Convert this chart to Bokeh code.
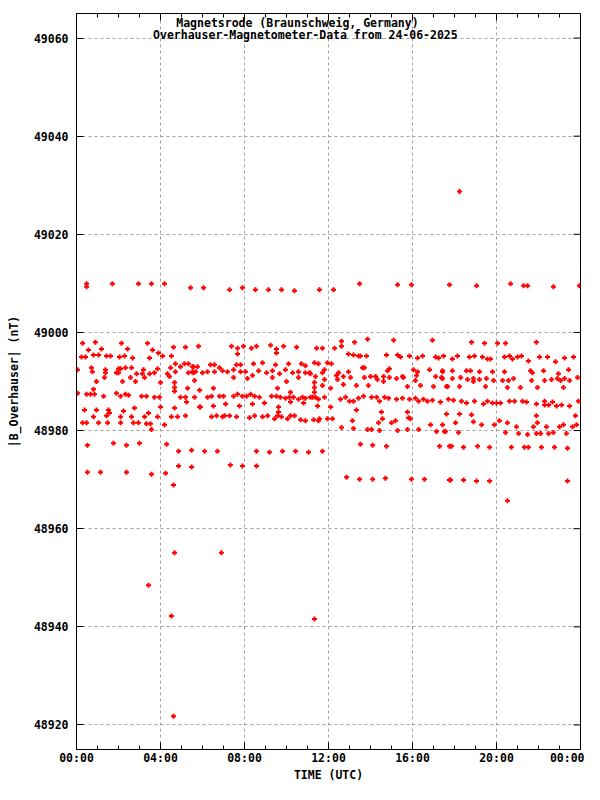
from math import pi
from bokeh.plotting import figure
from bokeh.models import Range1d, FixedTicker, Label, ColumnDataSource
from bokeh.embed import file_html
from bokeh.resources import INLINE

# ---- data: (hour of day UTC, |B| in nT) ----
title_line1 = "Magnetsrode (Braunschweig, Germany)"
title_line2 = "Overhauser-Magnetometer-Data from 24-06-2025"
x_title = "TIME (UTC)"
y_title = "|B_Overhauser| (nT)"
x_ticks = [0, 4, 8, 12, 16, 20, 24]
x_minor = list(range(0, 25))
x_tick_labels = ["00:00", "04:00", "08:00", "12:00", "16:00", "20:00", "00:00"]
y_ticks = [48920, 48940, 48960, 48980, 49000, 49020, 49040, 49060]
x_lo, x_hi = 0, 24
y_lo, y_hi = 48915, 49065

seg_00_06 = [
    (0.48, 49009.9), (0.48, 49009.3), (1.71, 49009.9), (2.95, 49009.9), (3.57, 49009.9), (4.19, 49009.9), (5.43, 49009.1),
    (0.29, 48997.8), (0.57, 48996.4), (0.90, 48998.0), (1.19, 48996.6), (0.24, 48995.0), (0.43, 48995.0), (0.81, 48995.4),
    (1.05, 48995.4), (1.43, 48995.2), (1.62, 48995.2), (2.14, 48997.8), (2.43, 48996.6), (2.05, 48995.0), (2.29, 48995.2),
    (2.67, 48994.8), (3.38, 48997.8), (3.62, 48996.4), (3.48, 48994.8), (3.90, 48995.8), (4.10, 48995.2), (4.52, 48995.2),
    (4.62, 48997.0), (5.19, 48997.0), (5.81, 48997.2),
    (0.05, 48992.4), (0.71, 48992.8), (0.76, 48992.0), (1.38, 48992.4), (1.38, 48991.8), (1.33, 48990.8), (1.90, 48991.8),
    (2.00, 48992.6), (2.00, 48991.8), (2.10, 48992.6), (2.33, 48992.8), (2.62, 48992.8), (2.86, 48991.6), (3.14, 48991.6),
    (3.19, 48992.4), (3.24, 48990.8), (3.48, 48991.6), (3.71, 48991.8), (3.86, 48992.6), (4.33, 48991.6), (4.43, 48991.0),
    (4.48, 48992.8), (4.71, 48993.6), (4.71, 48992.0), (4.95, 48993.0), (5.14, 48993.6), (5.33, 48993.6), (5.33, 48991.8),
    (5.52, 48992.0), (5.57, 48993.0), (5.76, 48993.0), (5.67, 48992.0), (5.62, 48990.2),
    (0.95, 48990.0), (2.19, 48990.0), (2.57, 48990.8), (2.81, 48990.0), (4.00, 48989.8), (4.67, 48989.8), (4.67, 48988.8),
    (4.67, 48988.0), (5.29, 48988.6),
    (0.05, 48987.6), (0.48, 48987.4), (0.67, 48987.4), (0.86, 48987.4), (0.81, 48988.4), (1.29, 48987.0), (1.90, 48987.6),
    (2.10, 48987.0), (2.33, 48987.4), (2.48, 48987.2), (3.10, 48987.0), (3.33, 48987.0), (3.71, 48986.8), (3.95, 48986.8),
    (4.95, 48986.8), (5.19, 48986.8), (5.24, 48985.8), (5.62, 48986.8), (5.86, 48988.2), (5.86, 48984.8),
    (0.38, 48984.2), (0.95, 48984.2), (1.52, 48984.2), (1.57, 48983.6), (2.24, 48984.0), (2.76, 48984.6), (3.43, 48983.6),
    (4.00, 48984.8), (4.67, 48984.6), (5.19, 48983.0), (4.52, 48982.8), (0.81, 48982.8), (1.43, 48983.0), (2.10, 48982.8),
    (2.62, 48982.8), (3.24, 48982.8), (3.86, 48982.8), (4.81, 48982.8),
    (0.29, 48981.6), (0.48, 48981.6), (1.05, 48981.6), (1.48, 48981.6), (2.10, 48981.6), (2.71, 48981.6), (2.95, 48981.6),
    (3.33, 48981.4), (3.52, 48981.4), (3.57, 48980.2), (4.19, 48981.2),
    (0.52, 48977.0), (1.76, 48977.4), (2.38, 48977.0), (3.00, 48977.4), (4.29, 48977.2), (4.86, 48975.8), (5.48, 48976.0),
    (0.52, 48971.5), (1.14, 48971.5), (2.38, 48971.5), (3.57, 48971.1), (4.24, 48971.3), (4.86, 48972.8), (5.48, 48972.6),
    (4.62, 48968.9),
]

seg_06_12 = [
    (6.05, 49009.1), (7.29, 49008.7), (7.90, 49009.1), (8.52, 49008.7), (9.14, 49008.7), (9.76, 49008.7), (10.38, 49008.5),
    (11.57, 49008.7),
    (7.38, 48997.2), (7.67, 48996.8), (7.67, 48995.6), (7.95, 48997.2), (8.33, 48996.8), (8.57, 48997.2), (9.24, 48997.4),
    (9.52, 48996.6), (9.52, 48995.8), (9.86, 48997.2), (10.48, 48997.0), (11.43, 48996.8),
    (5.52, 48993.0), (5.57, 48991.8), (6.00, 48991.8), (6.24, 48992.0), (6.38, 48993.4), (6.57, 48993.4), (6.57, 48992.0),
    (6.81, 48992.8), (6.95, 48992.2), (7.19, 48992.0), (7.48, 48992.4), (7.48, 48990.8), (7.62, 48993.4), (7.81, 48993.4),
    (7.81, 48992.0), (8.05, 48992.0), (8.14, 48990.6), (8.43, 48993.6), (8.38, 48991.2), (8.67, 48992.2), (8.86, 48993.8),
    (9.05, 48991.8), (9.33, 48992.2), (9.33, 48990.8), (9.48, 48993.4), (9.67, 48991.6), (9.95, 48992.4), (10.10, 48993.6),
    (10.00, 48990.0), (10.29, 48991.8), (10.57, 48992.0), (10.57, 48990.8), (10.71, 48993.6), (10.90, 48993.2),
    (10.90, 48991.8), (11.10, 48991.8), (11.33, 48993.8), (11.38, 48991.0), (11.52, 48993.6), (11.33, 48989.8),
    (6.52, 48988.6), (6.24, 48986.8), (6.43, 48987.0), (6.81, 48987.0), (7.00, 48987.0), (7.48, 48987.0), (7.67, 48987.4),
    (7.90, 48987.0), (8.10, 48987.0), (8.29, 48987.4), (8.48, 48987.0), (8.71, 48986.8), (9.29, 48987.0), (9.52, 48987.0),
    (9.71, 48986.8), (9.95, 48986.6), (10.14, 48986.8), (10.33, 48986.8), (10.57, 48986.4), (10.76, 48986.8),
    (10.90, 48986.6), (11.14, 48986.8), (11.33, 48987.8), (11.38, 48986.8), (11.52, 48986.4), (9.57, 48988.6),
    (10.19, 48987.8),
    (5.90, 48984.8), (6.52, 48985.0), (7.10, 48985.4), (7.76, 48985.0), (8.38, 48985.4), (8.95, 48985.6), (9.62, 48984.8),
    (10.19, 48985.8), (10.81, 48985.6), (11.48, 48985.0),
    (6.43, 48982.8), (6.67, 48983.0), (6.95, 48982.8), (7.05, 48983.0), (7.29, 48983.0), (7.62, 48982.8), (8.24, 48982.6),
    (8.48, 48983.0), (8.86, 48982.8), (9.10, 48983.0), (9.43, 48982.4), (9.57, 48983.0), (9.76, 48982.8), (10.05, 48982.4),
    (10.19, 48983.0), (10.38, 48983.0), (10.67, 48982.2), (10.90, 48982.0), (11.29, 48982.2), (11.52, 48982.0),
    (9.62, 48983.8),
    (6.10, 48975.8), (6.71, 48975.8), (8.57, 48975.8), (9.19, 48975.6), (9.81, 48975.8), (10.43, 48975.8), (11.05, 48975.6),
    (7.33, 48973.0), (7.90, 48972.8), (8.57, 48972.8),
]

seg_12_18 = [
    (12.24, 49008.7), (13.48, 49009.9), (15.29, 49009.7), (15.95, 49009.7), (17.76, 49009.7),
    (11.71, 48996.8), (12.29, 48996.8), (12.62, 48998.2), (12.62, 48997.2), (13.24, 48998.0), (13.86, 48998.6),
    (15.10, 48998.4), (16.95, 48998.4),
    (12.95, 48995.6), (13.19, 48995.4), (13.43, 48995.2), (13.52, 48995.2), (13.81, 48995.2), (14.76, 48995.4),
    (15.29, 48995.4), (15.43, 48995.0), (15.86, 48995.2), (16.24, 48994.8), (16.48, 48995.2), (17.10, 48995.0),
    (17.24, 48994.8), (17.48, 48995.2),
    (11.95, 48993.8), (12.14, 48993.6), (13.62, 48992.8), (13.71, 48992.8), (11.14, 48991.6), (11.71, 48991.8),
    (11.81, 48992.4), (11.81, 48990.4), (12.38, 48991.2), (12.48, 48991.8), (12.43, 48990.4), (12.71, 48991.0),
    (12.95, 48992.0), (13.05, 48990.8), (13.71, 48990.8), (14.00, 48991.0), (14.24, 48991.0), (14.33, 48990.4),
    (14.62, 48991.0), (14.62, 48990.0), (14.81, 48992.2), (14.90, 48992.6), (14.90, 48990.8), (15.24, 48990.6),
    (15.52, 48991.0), (15.57, 48990.8), (16.05, 48992.4), (16.24, 48992.0), (16.19, 48991.2), (16.14, 48990.2),
    (16.38, 48989.2), (16.81, 48992.4), (17.10, 48991.0), (17.43, 48992.0), (17.38, 48990.8),
    (11.33, 48988.8), (11.71, 48989.2), (12.10, 48988.6), (12.71, 48989.4), (13.33, 48989.2), (13.90, 48989.2),
    (15.76, 48989.0), (17.00, 48989.0), (17.67, 48989.0),
    (11.24, 48986.8), (11.81, 48986.8), (12.57, 48986.4), (12.81, 48986.8), (13.00, 48986.0), (13.19, 48986.0),
    (13.43, 48986.6), (13.67, 48987.0), (14.05, 48986.8), (14.29, 48986.8), (14.43, 48986.0), (14.67, 48986.8),
    (14.86, 48986.6), (15.24, 48986.4), (15.52, 48986.6), (15.86, 48986.4), (16.14, 48986.6), (16.29, 48986.0),
    (16.52, 48986.4), (16.71, 48986.0), (16.95, 48986.2), (17.33, 48985.8), (17.71, 48986.4),
    (12.10, 48984.8), (13.33, 48984.2), (14.52, 48983.8), (15.76, 48983.8), (17.62, 48983.4), (14.57, 48982.4),
    (15.90, 48982.4), (11.57, 48982.4), (11.95, 48982.4), (12.19, 48982.4), (13.14, 48982.0), (14.38, 48981.6),
    (15.00, 48981.6), (15.19, 48982.0), (15.81, 48982.6), (16.86, 48981.2), (17.43, 48981.2),
    (12.62, 48980.6), (13.19, 48980.4), (13.86, 48980.2), (14.05, 48980.2), (14.43, 48980.0), (15.29, 48980.0),
    (15.76, 48980.2), (16.29, 48980.2), (17.14, 48979.8), (17.52, 48979.8), (17.57, 48979.8),
    (11.71, 48975.8), (13.52, 48977.2), (14.10, 48977.0), (14.76, 48976.8), (17.29, 48976.8), (17.76, 48976.8),
    (12.86, 48970.5), (13.48, 48970.1), (14.10, 48970.1), (14.71, 48970.3), (15.95, 48970.1), (16.57, 48970.1),
    (17.76, 48969.9),
]

seg_18_24 = [
    (19.05, 49009.5), (20.67, 49009.9), (21.29, 49009.5), (21.48, 49009.5), (22.71, 49009.3), (23.95, 49009.5),
    (18.81, 48998.0), (19.43, 48997.8), (20.05, 48997.8), (20.43, 48997.8), (21.90, 48998.0),
    (17.90, 48994.6), (18.14, 48995.2), (18.71, 48995.0), (18.95, 48995.2), (19.33, 48995.0), (19.57, 48994.6),
    (19.71, 48994.6), (20.38, 48995.0), (20.62, 48995.2), (20.76, 48994.6), (21.00, 48995.0), (21.19, 48995.2),
    (21.52, 48994.2), (22.05, 48995.0), (22.43, 48995.0), (22.81, 48994.0), (23.24, 48994.8), (23.67, 48995.0),
    (17.43, 48992.2), (17.90, 48992.2), (18.57, 48992.2), (18.76, 48992.2), (19.19, 48992.0), (19.81, 48992.0),
    (20.38, 48992.0), (21.62, 48992.2), (21.71, 48991.8), (22.24, 48992.2), (22.95, 48991.6), (23.43, 48992.4),
    (17.43, 48990.6), (17.90, 48990.6), (18.29, 48990.8), (18.62, 48990.4), (18.90, 48990.6), (19.19, 48990.4),
    (19.52, 48990.6), (19.86, 48990.2), (20.29, 48990.2), (20.57, 48990.2), (20.81, 48990.6), (21.14, 48988.8),
    (21.67, 48990.2), (22.29, 48990.2), (22.62, 48990.4), (22.90, 48990.6), (23.05, 48990.2), (23.24, 48990.6),
    (23.48, 48990.2), (23.86, 48990.8),
    (17.62, 48989.0), (18.24, 48989.0), (18.90, 48990.0), (19.48, 48989.0), (20.52, 48988.8), (21.95, 48988.8),
    (23.19, 48988.8),
    (17.95, 48986.2), (18.33, 48986.0), (18.57, 48985.6), (18.95, 48986.0), (19.38, 48985.4), (19.57, 48986.0),
    (19.81, 48985.6), (20.00, 48985.6), (20.19, 48985.6), (20.62, 48986.0), (20.86, 48986.0), (21.24, 48986.0),
    (21.43, 48985.8), (21.90, 48985.4), (22.29, 48985.2), (22.29, 48986.0), (22.48, 48985.2), (22.67, 48985.8),
    (22.86, 48985.0), (23.10, 48985.2), (23.48, 48985.0), (23.90, 48986.0),
    (18.24, 48983.4), (18.81, 48983.2), (21.90, 48983.0), (23.76, 48983.0),
    (18.05, 48981.6), (18.90, 48981.8), (19.29, 48981.2), (19.90, 48981.2), (20.14, 48982.0), (20.52, 48981.6),
    (20.95, 48980.8), (21.76, 48980.8), (21.95, 48981.6), (22.38, 48980.8), (23.00, 48980.8), (23.19, 48981.2),
    (23.62, 48980.8), (23.81, 48981.2),
    (18.19, 48979.6), (20.43, 48979.6), (21.05, 48979.4), (21.48, 48979.2), (21.90, 48979.4), (22.10, 48979.4),
    (22.48, 48979.4), (22.71, 48979.6), (23.33, 48979.4),
    (17.86, 48976.8), (18.43, 48976.6), (19.10, 48976.8), (19.67, 48976.6), (20.71, 48976.6), (21.33, 48976.6),
    (21.52, 48976.6), (22.14, 48976.6), (22.76, 48976.6), (23.38, 48976.4),
    (17.81, 48969.9), (18.43, 48969.9), (19.05, 48969.7), (19.67, 48969.7), (23.38, 48969.7),
]

outliers = [
    (18.24, 49028.7), (20.52, 48965.7), (3.43, 48948.5), (4.67, 48955.1), (6.90, 48955.1),
    (4.52, 48942.2), (11.33, 48941.6), (4.62, 48921.8),
]

points = seg_00_06 + seg_06_12 + seg_12_18 + seg_18_24 + outliers
source = ColumnDataSource(data=dict(t=[q[0] for q in points], b=[q[1] for q in points]))

FONT = "DejaVu Sans Mono"
FS = "11.5px"

p = figure(width=584, height=784, output_backend="svg", toolbar_location=None,
           x_range=Range1d(x_lo, x_hi), y_range=Range1d(y_lo, y_hi),
           min_border_left=76, min_border_right=4, min_border_top=13, min_border_bottom=28)
p.background_fill_color = "white"
p.border_fill_color = "white"
p.outline_line_color = "black"
p.outline_line_width = 1

xt = FixedTicker(ticks=x_ticks, minor_ticks=x_minor)
yt = FixedTicker(ticks=y_ticks, minor_ticks=[])

for g, tk in ((p.xgrid, xt), (p.ygrid, yt)):
    g.ticker = tk
    g.grid_line_color = "#a0a0a0"
    g.grid_line_dash = "3 3"
    g.grid_line_width = 1

def style(ax):
    ax.axis_line_color = "black"
    ax.major_tick_in = 7
    ax.major_tick_out = 0
    ax.minor_tick_out = 0
    ax.major_tick_line_color = "black"
    ax.minor_tick_line_color = "black"
    ax.major_label_text_font = FONT
    ax.major_label_text_font_style = "bold"
    ax.major_label_text_font_size = FS
    ax.major_label_text_color = "black"
    ax.axis_label_text_font = FONT
    ax.axis_label_text_font_style = "bold"
    ax.axis_label_text_font_size = FS
    ax.axis_label_text_color = "black"

xa = p.xaxis[0]
xa.ticker = xt
xa.major_label_overrides = {t: lab for t, lab in zip(x_ticks, x_tick_labels)}
xa.axis_label = x_title
style(xa)
xa.minor_tick_in = 4
xa.major_label_standoff = 1
xa.axis_label_standoff = 0

ya = p.yaxis[0]
ya.ticker = yt
ya.axis_label = y_title
style(ya)
ya.minor_tick_in = 0
ya.major_label_standoff = 8
ya.axis_label_standoff = 10

# mirrored inward ticks on the top and right frame edges
p.ray(x=x_ticks, y=[y_hi] * len(x_ticks), length=7, length_units="screen", angle=-pi / 2,
      line_color="black", line_width=1)
p.ray(x=x_minor, y=[y_hi] * len(x_minor), length=4, length_units="screen", angle=-pi / 2,
      line_color="black", line_width=1)
p.ray(x=[x_hi] * len(y_ticks), y=y_ticks, length=7, length_units="screen", angle=pi,
      line_color="black", line_width=1)

p.scatter("t", "b", source=source, marker="cross", size=5, line_width=2, color="#ff0000")

p.add_layout(Label(x=10.52, y=49063.1, text=title_line1, text_align="center", text_baseline="middle",
                   text_font=FONT, text_font_style="bold", text_font_size=FS, text_color="black"))
p.add_layout(Label(x=10.90, y=49060.7, text=title_line2, text_align="center", text_baseline="middle",
                   text_font=FONT, text_font_style="bold", text_font_size=FS, text_color="black"))

open("out.html", "w").write(file_html(p, INLINE))
